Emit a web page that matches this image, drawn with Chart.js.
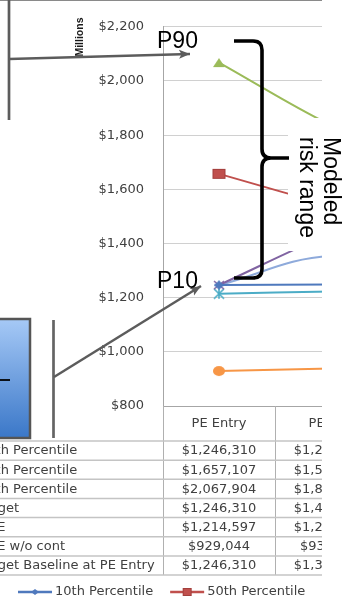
<!DOCTYPE html>
<html>
<head>
<meta charset="utf-8">
<script src="https://cdn.jsdelivr.net/npm/chart.js@4.4.1/dist/chart.umd.min.js"></script>
<style>
  html, body { margin: 0; padding: 0; background: #fff; width: 347px; height: 610px; overflow: hidden; }
  #frame { position: absolute; left: 0; top: 0; width: 322px; height: 610px; overflow: hidden; }
  #chart { position: absolute; left: 0; top: 0; }
  #notes { position: absolute; left: 0; top: 0; pointer-events: none; }
  #notes text { font-family: "Liberation Sans", Arial, sans-serif; font-size: 23px; fill: #000; }
</style>
</head>
<body>
<div id="frame"><canvas id="chart" width="520" height="610"></canvas></div>

<svg id="notes" width="347" height="610" xmlns="http://www.w3.org/2000/svg">
  <defs>
    <marker id="head" markerUnits="userSpaceOnUse" markerWidth="12" markerHeight="10" refX="11" refY="5" orient="auto">
      <path d="M0,0.5 L11,5 L0,9.5 L2.5,5 Z" fill="#5c5c5c"/>
    </marker>
    <linearGradient id="boxFill" x1="0" y1="0" x2="0" y2="1">
      <stop offset="0" stop-color="#a6c9f6"/>
      <stop offset="1" stop-color="#3a77c8"/>
    </linearGradient>
  </defs>

  <!-- chart frame top edge -->
  <line x1="0" y1="0.5" x2="322" y2="0.5" stroke="#8a8a8a" stroke-width="1"/>

  <!-- callout pointing at the P90 marker -->
  <line x1="9" y1="0" x2="9" y2="120" stroke="#5c5c5c" stroke-width="2.7"/>
  <line x1="9" y1="59" x2="190" y2="54" stroke="#5c5c5c" stroke-width="2.5" marker-end="url(#head)"/>

  <!-- callout box pointing at the P10 marker -->
  <rect x="-4" y="319" width="34" height="119" fill="url(#boxFill)" stroke="#555" stroke-width="2.5"/>
  <line x1="0" y1="380" x2="10" y2="380" stroke="#000" stroke-width="1.8"/>
  <line x1="53.5" y1="320" x2="53.5" y2="438" stroke="#646464" stroke-width="2.7"/>
  <line x1="54" y1="377" x2="201" y2="286" stroke="#5c5c5c" stroke-width="2.5" marker-end="url(#head)"/>

  <text x="157" y="48">P90</text>
  <text x="157" y="288">P10</text>

  <!-- label panel -->
  <rect x="288" y="118" width="59" height="133" fill="#fff"/>
  <text transform="translate(324,137) rotate(90)">Modeled</text>
  <text transform="translate(300,137) rotate(90)">risk range</text>

  <!-- brace spanning P10..P90 -->
  <path d="M234,41 L253,41 Q262,41 262,50 L262,149 Q262,158 271,158 L289,158 M271,158 Q262,158 262,167 L262,269 Q262,278 253,278 L234,278"
        fill="none" stroke="#000" stroke-width="3.6" stroke-linejoin="round"/>
</svg>

<script>
// Milestones (columns of the data table)
const categories = ['PE Entry', 'PE Exit', 'FD Entry'];

// Series names (rows of the data table)
const seriesNames = [
  '10th Percentile',
  '50th Percentile',
  '90th Percentile',
  'Target',
  'CCE',
  'CCE w/o cont',
  'Target Baseline at PE Entry'
];

// Cost values in $ thousands, one per milestone
const p10Values       = [1246310, 1248520, 1251040];
const p50Values       = [1657107, 1541360, 1448720];
const p90Values       = [2067904, 1836190, 1652450];
const targetValues    = [1246310, 1437250, 1598300];
const cceValues       = [1214597, 1222480, 1226900];
const cceNoContValues = [929044, 938170, 941600];
const baselineValues  = [1246310, 1353600, 1290000];

// Axis ticks, $ millions
const yTicks = [800, 1000, 1200, 1400, 1600, 1800, 2000, 2200];

const seriesValues = [p10Values, p50Values, p90Values, targetValues, cceValues, cceNoContValues, baselineValues];
const seriesColors = ['#4f79bd', '#c0504d', '#9bbb59', '#8064a2', '#4bacc6', '#f79646', '#8eaadb'];
const seriesMarkers = ['diamond', 'square', 'triangle', 'x', 'star', 'circle', 'plus'];

// Marker glyphs drawn on small canvases (slightly wide, like the sheet's stretched markers)
function makeMarker(kind, w, h, color) {
  const pad = 2;
  const c = document.createElement('canvas');
  c.width = Math.ceil(w + pad * 2);
  c.height = Math.ceil(h + pad * 2);
  const g = c.getContext('2d');
  g.translate(pad, pad);
  g.fillStyle = color;
  g.strokeStyle = color;
  g.lineWidth = 1.6;
  g.beginPath();
  if (kind === 'diamond') {
    g.moveTo(w / 2, 0); g.lineTo(w, h / 2); g.lineTo(w / 2, h); g.lineTo(0, h / 2); g.closePath(); g.fill();
  } else if (kind === 'square') {
    g.fillRect(0, 0, w, h);
    g.strokeStyle = '#a33f3c'; g.lineWidth = 1; g.strokeRect(0.5, 0.5, w - 1, h - 1);
  } else if (kind === 'triangle') {
    g.moveTo(w / 2, 0); g.lineTo(w, h); g.lineTo(0, h); g.closePath(); g.fill();
  } else if (kind === 'circle') {
    g.ellipse(w / 2, h / 2, w / 2, h / 2, 0, 0, Math.PI * 2); g.fill();
  } else if (kind === 'x') {
    g.moveTo(0, 0); g.lineTo(w, h); g.moveTo(w, 0); g.lineTo(0, h); g.stroke();
  } else if (kind === 'star') {
    g.moveTo(0, 0); g.lineTo(w, h); g.moveTo(w, 0); g.lineTo(0, h);
    g.moveTo(w / 2, 0); g.lineTo(w / 2, h); g.stroke();
  } else if (kind === 'plus') {
    g.moveTo(0, h / 2); g.lineTo(w, h / 2); g.moveTo(w / 2, 0); g.lineTo(w / 2, h); g.stroke();
  }
  return c;
}

const plotMarkerSize = {
  diamond: [10, 9], square: [13, 10], triangle: [12, 9], circle: [12, 10],
  x: [10, 8], star: [10, 10], plus: [10, 9]
};
const legendMarkerSize = {
  diamond: [8, 6], square: [9, 8], triangle: [9, 7], circle: [9, 8],
  x: [8, 7], star: [8, 8], plus: [8, 8]
};

const plotMarkers = seriesMarkers.map((m, i) => makeMarker(m, plotMarkerSize[m][0], plotMarkerSize[m][1], seriesColors[i]));
const legendMarkers = seriesMarkers.map((m, i) => makeMarker(m, legendMarkerSize[m][0], legendMarkerSize[m][1], seriesColors[i]));

const money = v => '$' + v.toLocaleString('en-US');
const FONT = '13px "DejaVu Sans", Verdana, sans-serif';
const TEXT = '#404040';

// Data table under the plot, plus legend and unit label
const dataTablePlugin = {
  id: 'dataTable',
  afterDraw(chart) {
    const { ctx, chartArea, scales } = chart;
    const x = scales.x;
    const W = chart.width;
    const top = chartArea.bottom;
    const headerH = 35;
    const rowH = 19.15;
    const colW = x.getPixelForValue(1) - x.getPixelForValue(0);
    const bottom = top + headerH + rowH * seriesNames.length;

    ctx.save();
    // category axis line
    ctx.strokeStyle = '#a6a6a6';
    ctx.lineWidth = 1;
    ctx.beginPath();
    ctx.moveTo(chartArea.left, Math.round(top) + 0.5);
    ctx.lineTo(W, Math.round(top) + 0.5);
    ctx.stroke();

    // column dividers
    ctx.strokeStyle = '#b0b0b0';
    for (let k = 0; k <= categories.length; k++) {
      const cx = Math.round(chartArea.left + k * colW) + 0.5;
      ctx.beginPath();
      ctx.moveTo(cx, top);
      ctx.lineTo(cx, bottom);
      ctx.stroke();
    }
    // row dividers
    ctx.strokeStyle = '#c4c4c4';
    ctx.lineWidth = 1.5;
    for (let r = 0; r <= seriesNames.length; r++) {
      const ry = top + headerH + r * rowH;
      ctx.beginPath();
      ctx.moveTo(0, ry);
      ctx.lineTo(W, ry);
      ctx.stroke();
    }

    ctx.font = FONT;
    ctx.fillStyle = TEXT;
    ctx.textBaseline = 'middle';
    // header
    ctx.textAlign = 'center';
    categories.forEach((c, i) => ctx.fillText(c, x.getPixelForValue(i), top + headerH / 2));
    // rows
    seriesNames.forEach((name, r) => {
      const cy = top + headerH + r * rowH + rowH / 2 + 0.5;
      ctx.textAlign = 'left';
      ctx.fillText(name, -21, cy);
      ctx.textAlign = 'center';
      seriesValues[r].forEach((v, i) => ctx.fillText(money(v), x.getPixelForValue(i), cy));
    });

    // legend
    let lx = 18;
    const ly = 592;
    ctx.textAlign = 'left';
    chart.data.datasets.forEach((ds, i) => {
      ctx.strokeStyle = ds.borderColor;
      ctx.lineWidth = 2.5;
      ctx.beginPath();
      ctx.moveTo(lx, ly);
      ctx.lineTo(lx + 34, ly);
      ctx.stroke();
      const mk = legendMarkers[i];
      ctx.drawImage(mk, lx + 17 - mk.width / 2, ly - mk.height / 2);
      ctx.fillStyle = TEXT;
      ctx.fillText(ds.label, lx + 37, ly);
      lx += 37 + ctx.measureText(ds.label).width + 17;
    });

    // unit label
    ctx.save();
    ctx.translate(80, 37);
    ctx.rotate(-Math.PI / 2);
    ctx.font = 'bold 10.5px "Liberation Sans", Arial, sans-serif';
    ctx.fillStyle = '#1a1a1a';
    ctx.textAlign = 'center';
    ctx.fillText('Millions', 0, 0);
    ctx.restore();

    ctx.restore();
  }
};

const datasets = seriesNames.map((name, i) => ({
  label: name,
  data: seriesValues[i].map(v => v / 1000),
  borderColor: seriesColors[i],
  backgroundColor: seriesColors[i],
  borderWidth: 2,
  tension: 0.4,
  pointStyle: plotMarkers[i],
  pointRadius: 5,
  fill: false
}));

new Chart(document.getElementById('chart'), {
  type: 'line',
  data: { labels: categories, datasets },
  plugins: [dataTablePlugin],
  options: {
    responsive: false,
    animation: false,
    devicePixelRatio: 1,
    layout: { padding: { left: 0, right: 21, top: 14, bottom: 204 } },
    plugins: { legend: { display: false }, tooltip: { enabled: false } },
    scales: {
      x: { type: 'category', offset: true, display: false },
      y: {
        min: 800,
        max: 2200,
        afterBuildTicks(scale) { scale.ticks = yTicks.map(v => ({ value: v })); },
        afterFit(scale) { scale.width = 163; },
        grid: { color: '#d0d0d0', lineWidth: 1, drawTicks: false },
        border: { color: '#a6a6a6', width: 1 },
        ticks: {
          padding: 19,
          color: TEXT,
          font: { family: '"DejaVu Sans", Verdana, sans-serif', size: 13 },
          callback: v => money(v)
        }
      }
    }
  }
});
</script>
</body>
</html>
